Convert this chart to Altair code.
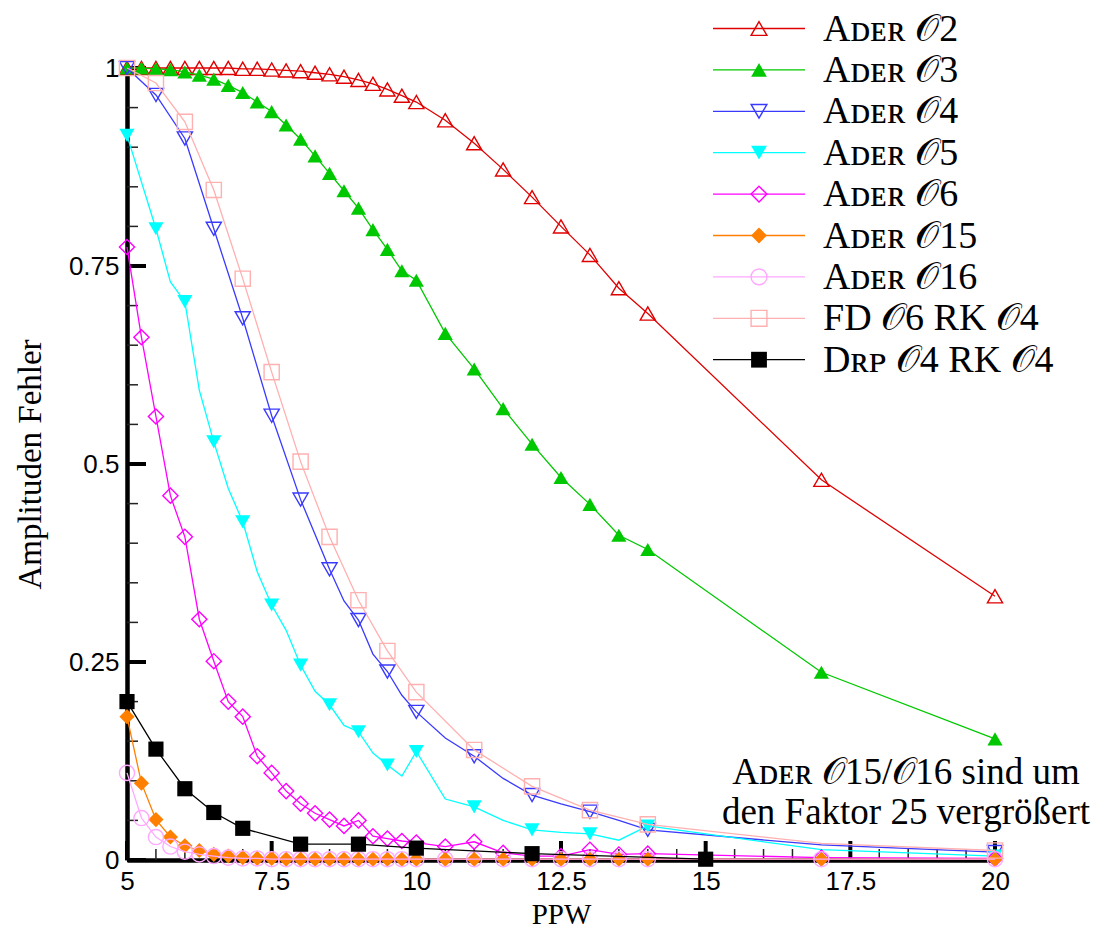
import altair as alt
import pandas as pd

# ---------------- data ----------------
ppw_full = [5, 5.25, 5.5, 5.75, 6, 6.25, 6.5, 6.75, 7, 7.25, 7.5, 7.75, 8, 8.25, 8.5,
            8.75, 9, 9.25, 9.5, 9.75, 10, 10.5, 11, 11.5, 12, 12.5, 13, 13.5, 14, 17, 20]

ader_o2 = [1.0, 1.0, 1.0, 1.0, 1.0, 1.0, 1.0, 1.0, 0.999, 0.999, 0.998, 0.997, 0.996, 0.994,
           0.992, 0.989, 0.985, 0.98, 0.973, 0.965, 0.957, 0.934, 0.905, 0.872, 0.837, 0.8,
           0.764, 0.722, 0.69, 0.48, 0.333]
ader_o3 = [1.0, 1.0, 0.999, 0.998, 0.995, 0.991, 0.986, 0.978, 0.969, 0.957, 0.945, 0.928,
           0.91, 0.889, 0.867, 0.845, 0.823, 0.796, 0.771, 0.744, 0.732, 0.665, 0.62, 0.57,
           0.525, 0.483, 0.449, 0.41, 0.392, 0.237, 0.153]
ader_o6 = [0.774, 0.66, 0.56, 0.46, 0.408, 0.304, 0.251, 0.2, 0.181, 0.131, 0.11, 0.087, 0.071,
           0.059, 0.051, 0.043, 0.05, 0.03, 0.027, 0.024, 0.022, 0.017, 0.023, 0.009, 0.005,
           0.005, 0.013, 0.007, 0.008, 0.003, 0.002]
ader_o15 = [0.181, 0.097, 0.051, 0.029, 0.018, 0.012, 0.007, 0.005, 0.003, 0.002, 0.002, 0.001,
            0.001, 0.001, 0.001, 0.001, 0.001, 0.001, 0.001, 0.001, 0.001, 0.001, 0.001, 0.001,
            0.001, 0.001, 0.001, 0.001, 0.001, 0.001, 0.001]
ader_o16 = [0.110, 0.053, 0.029, 0.017, 0.0105, 0.007, 0.005, 0.003, 0.002, 0.002, 0.001, 0.001,
            0.001, 0.001, 0.001, 0.001, 0.001, 0.001, 0.001, 0.001, 0.001, 0.001, 0.001, 0.001,
            0.001, 0.001, 0.001, 0.001, 0.001, 0.001, 0.001]
mark_full = [1] * 31

ppw_o4 = [5, 5.5, 6, 6.5, 7, 7.5, 8, 8.5, 8.75, 9, 9.25, 9.5, 9.75, 10, 10.5, 11, 11.5, 12,
          12.5, 13, 13.5, 14, 17, 20]
ader_o4 = [1.0, 0.966, 0.911, 0.797, 0.684, 0.561, 0.455, 0.367, 0.327, 0.303, 0.26, 0.238,
           0.208, 0.187, 0.154, 0.131, 0.103, 0.082, 0.071, 0.061, 0.05, 0.038, 0.019, 0.01]
mark_o4 = [1, 1, 1, 1, 1, 1, 1, 1, 0, 1, 0, 1, 0, 1, 0, 1, 0, 1, 0, 1, 0, 1, 0, 1]

ppw_o5 = [5, 5.5, 5.75, 6, 6.25, 6.5, 6.75, 7, 7.25, 7.5, 7.75, 8, 8.25, 8.5, 8.75, 9, 9.25,
          9.5, 9.75, 10, 10.5, 11, 11.5, 12, 12.5, 13, 13.5, 14, 17, 20]
ader_o5 = [0.915, 0.797, 0.73, 0.705, 0.593, 0.528, 0.469, 0.427, 0.364, 0.322, 0.29, 0.246,
           0.213, 0.196, 0.17, 0.162, 0.135, 0.12, 0.106, 0.137, 0.077, 0.067, 0.05, 0.038,
           0.035, 0.033, 0.025, 0.043, 0.013, 0.005]
mark_o5 = [1, 1, 0, 1, 0, 1, 0, 1, 0, 1, 0, 1, 0, 1, 0, 1, 0, 1, 0, 1, 0, 1, 0, 1, 0, 1, 0, 1, 0, 1]

ppw_fd = [5, 5.5, 6, 6.5, 7, 7.5, 8, 8.5, 9, 9.5, 10, 11, 12, 13, 14, 17, 20]
fd_o6_rk4 = [1.0, 0.981, 0.932, 0.846, 0.734, 0.616, 0.503, 0.408, 0.328, 0.264, 0.212, 0.139,
             0.093, 0.063, 0.045, 0.021, 0.012]
mark_fd = [1, 1, 1, 1, 1, 1, 1, 1, 1, 1, 1, 1, 1, 1, 1, 0, 1]

ppw_drp = [5, 5.5, 6, 6.5, 7, 8, 9, 10, 12, 15]
drp_o4_rk4 = [0.2, 0.14, 0.09, 0.06, 0.04, 0.02, 0.02, 0.015, 0.008, 0.001]
mark_drp = [1] * 10

labels = ["Aᴅᴇʀ 𝒪2", "Aᴅᴇʀ 𝒪3", "Aᴅᴇʀ 𝒪4", "Aᴅᴇʀ 𝒪5", "Aᴅᴇʀ 𝒪6", "Aᴅᴇʀ 𝒪15",
          "Aᴅᴇʀ 𝒪16", "FD 𝒪6 RK 𝒪4", "Dʀᴘ 𝒪4 RK 𝒪4"]
colors = ["#e00000", "#00c800", "#3a3aff", "#00ffff", "#ff00ff", "#ff8000", "#ffa8ff",
          "#ffb0b0", "#000000"]
shapes = ["triangle-up", "triangle-up", "triangle-down", "triangle-down", "diamond", "diamond",
          "circle", "square", "square"]
filled = [False, True, False, True, False, True, False, False, True]

series_x = [ppw_full, ppw_full, ppw_o4, ppw_o5, ppw_full, ppw_full, ppw_full, ppw_fd, ppw_drp]
series_y = [ader_o2, ader_o3, ader_o4, ader_o5, ader_o6, ader_o15, ader_o16, fd_o6_rk4, drp_o4_rk4]
series_m = [mark_full, mark_full, mark_o4, mark_o5, mark_full, mark_full, mark_full, mark_fd, mark_drp]

note_lines = ["Aᴅᴇʀ 𝒪15/𝒪16 sind um", "den Faktor 25 vergrößert"]

x_ticks = [5, 7.5, 10, 12.5, 15, 17.5, 20]
x_minor = [5.5, 6, 6.5, 7, 8, 8.5, 9, 9.5, 10.5, 11, 11.5, 12, 13, 13.5, 14, 14.5,
           15.5, 16, 16.5, 17, 18, 18.5, 19, 19.5]
y_ticks = [0, 0.25, 0.5, 0.75, 1]
y_minor = [0.05, 0.1, 0.15, 0.2, 0.3, 0.35, 0.4, 0.45, 0.55, 0.6, 0.65, 0.7, 0.8, 0.85,
           0.9, 0.95]

# ---------------- chart ----------------
W, H = 868, 792
SERIF = "Liberation Serif"
SANS = "Liberation Sans"

xs = alt.Scale(domain=[5, 20], nice=False, zero=False)
ys = alt.Scale(domain=[0, 1], nice=False, zero=False)

AX_X = alt.Axis(values=x_ticks, labelExpr="'' + datum.value", ticks=False, grid=False,
                domainColor="black", domainWidth=4.5, labelFont=SANS,
                labelFontSize=26, labelColor="black", labelPadding=8,
                labelFlush=False,
                title="PPW", titleFont=SERIF, titleFontSize=29,
                titleFontWeight="normal", titleColor="black",
                titleX=W / 2, titleY=54, titleBaseline="middle")
AX_Y = alt.Axis(values=y_ticks, labelExpr="'' + datum.value", ticks=False, grid=False,
                domainColor="black", domainWidth=4.5, labelFont=SANS,
                labelFontSize=26, labelColor="black", labelPadding=8,
                labelFlush=False,
                title="Amplituden Fehler", titleFont=SERIF, titleFontSize=33,
                titleFontWeight="normal", titleColor="black",
                titleX=-97, titleY=H / 2, titleAngle=-90,
                titleBaseline="middle", titleAlign="center")


def X(field="x"):
    return alt.X(f"{field}:Q", scale=xs, axis=AX_X)


def Y(field="y"):
    return alt.Y(f"{field}:Q", scale=ys, axis=AX_Y)


layers = []

# axis carrier (invisible)
axis_src = pd.DataFrame({"x": [5, 20], "y": [0, 0]})
layers.append(alt.Chart(axis_src).mark_point(opacity=0).encode(x=X(), y=Y()))

# inward ticks
layers.append(alt.Chart(pd.DataFrame({"y": y_minor})).mark_rule(color="#222", strokeWidth=1.5)
              .encode(y=Y(), x=alt.value(0), x2=alt.value(11)))
layers.append(alt.Chart(pd.DataFrame({"y": y_ticks})).mark_rule(color="black", strokeWidth=4)
              .encode(y=Y(), x=alt.value(0), x2=alt.value(19)))
layers.append(alt.Chart(pd.DataFrame({"x": x_minor})).mark_rule(color="#222", strokeWidth=1.5)
              .encode(x=X(), y=alt.value(H), y2=alt.value(H - 11)))
layers.append(alt.Chart(pd.DataFrame({"x": x_ticks})).mark_rule(color="black", strokeWidth=4)
              .encode(x=X(), y=alt.value(H), y2=alt.value(H - 19)))

# series + legend rows
LEG_X0, LEG_X1, LEG_XM, LEG_XT = 586, 678, 632, 696
LEG_Y0, LEG_DY = -39.5, 41.4


def marker(i, size):
    if filled[i]:
        return dict(shape=shapes[i], size=size, filled=True, fill=colors[i], color=colors[i],
                    opacity=1, strokeWidth=0)
    return dict(shape=shapes[i], size=size, filled=False, color=colors[i], opacity=1,
                strokeWidth=1.4)


for i in range(len(labels)):
    df = pd.DataFrame({"x": series_x[i], "y": series_y[i], "m": series_m[i]})
    base = alt.Chart(df)
    layers.append(base.mark_line(color=colors[i], strokeWidth=1.3).encode(x=X(), y=Y()))
    layers.append(base.transform_filter("datum.m == 1").mark_point(**marker(i, 230))
                  .encode(x=X(), y=Y()))
    ly = LEG_Y0 + i * LEG_DY
    lb = alt.Chart(pd.DataFrame({"label": [labels[i]]}))
    layers.append(lb.mark_rule(color=colors[i], strokeWidth=1.3).encode(
        x=alt.value(LEG_X0), x2=alt.value(LEG_X1), y=alt.value(ly)))
    layers.append(lb.mark_point(**marker(i, 250)).encode(x=alt.value(LEG_XM), y=alt.value(ly)))
    layers.append(lb.mark_text(font=SERIF, fontSize=38, align="left", baseline="middle",
                               color="black").encode(
        x=alt.value(LEG_XT), y=alt.value(ly + 1), text="label:N"))

# annotation
note_df = pd.DataFrame({"t": note_lines, "k": list(range(len(note_lines)))})
layers.append(alt.Chart(note_df).transform_calculate(py="705 + datum.k * 40").mark_text(
    font=SERIF, fontSize=37, align="center", baseline="middle", color="black").encode(
    x=alt.value(779), y=alt.Y("py:Q", scale=None, axis=None), text="t:N"))

chart = alt.layer(*layers).properties(
    width=W, height=H, background="white",
    autosize=alt.AutoSizeParams(type="none"),
    padding={"left": 127, "top": 68, "right": 113, "bottom": 71},
).configure_view(stroke=None)

chart.save("out.html", embed_options={"renderer": "svg", "actions": False})
